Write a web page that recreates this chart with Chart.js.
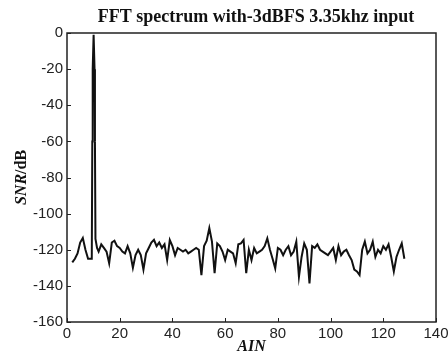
<!DOCTYPE html>
<html>
<head>
<meta charset="utf-8">
<script src="https://cdn.jsdelivr.net/npm/chart.js@4/dist/chart.umd.min.js"></script>
<style>
html,body{margin:0;padding:0;background:#fff;}
#wrap{width:448px;height:357px;position:relative;}
</style>
</head>
<body>
<div id="wrap"><canvas id="c" width="448" height="357"></canvas></div>
<script>
const chartTitle = 'FFT spectrum with-3dBFS 3.35khz input';
const xTitle = 'AIN';
const yTitleItalic = 'SNR';
const yTitleRest = '/dB';
const xTicks = [0, 20, 40, 60, 80, 100, 120, 140];
const yTicks = [0, -20, -40, -60, -80, -100, -120, -140, -160];

const freqX = [2,3,4,5,6,7,8,9,9.4,9.6,9.75,10.1,10.45,10.6,10.8,11.4,12,13,14,15,16,17,18,19,20,21,22,23,24,25,26,27,28,29,30,31,32,33,34,35,36,37,38,39,40,41,42,43,44,45,46,47,48,49,50,51,52,53,54,55,56,57,58,59,60,61,62,63,64,65,66,67,68,69,70,71,72,73,74,75,76,77,78,79,80,81,82,83,84,85,86,87,88,89,90,91,92,93,94,95,96,97,98,99,100,101,102,103,104,105,106,107,108,109,110,111,112,113,114,115,116,117,118,119,120,121,122,123,124,125,126,127,128];
const snrY = [-127,-125,-122,-116,-113.5,-120,-125,-125,-125,-60,-20,-1,-20,-60,-114,-119,-121,-117,-119,-121,-127.5,-116,-115,-118,-119,-121,-122,-118,-122,-130,-123,-120,-123,-131,-122,-119,-116,-114.5,-118,-116,-119,-117,-125.7,-114.6,-118,-123,-119,-120,-121,-120,-122,-121,-120,-119,-120,-134,-118,-115,-108,-115.5,-133,-116.5,-118,-121,-125.7,-120,-121,-122,-127.5,-117,-116.5,-114.6,-133,-120,-125.7,-119,-122,-121,-120,-118,-113.7,-120,-125,-130.3,-119,-120,-123,-120,-118,-123,-121,-115.5,-135,-124,-116.5,-120,-138.6,-118,-119,-117,-120,-121,-122,-123,-121,-119,-125.7,-118,-123,-121,-120,-123,-125.7,-131,-132,-134,-120,-115.5,-122,-120,-115.5,-124,-120,-122,-118,-120,-117,-124,-132,-124,-120,-116.5,-125];

const points = freqX.map((x, i) => ({x: x, y: snrY[i]}));

const decor = {
  id: 'decor',
  afterDraw(chart) {
    const ctx = chart.ctx;
    const a = chart.chartArea;
    const xs = chart.scales.x, ys = chart.scales.y;
    ctx.save();
    ctx.strokeStyle = '#222';
    ctx.lineWidth = 1.5;
    ctx.strokeRect(a.left, a.top, a.right - a.left, a.bottom - a.top);
    ctx.lineWidth = 1;
    ctx.beginPath();
    yTicks.forEach(v => {
      const p = Math.round(ys.getPixelForValue(v)) + 0.5;
      ctx.moveTo(a.left, p); ctx.lineTo(a.left + 4, p);
    });
    xTicks.forEach(v => {
      const p = Math.round(xs.getPixelForValue(v)) + 0.5;
      ctx.moveTo(p, a.bottom); ctx.lineTo(p, a.bottom - 4);
    });
    ctx.stroke();
    ctx.fillStyle = '#111';
    ctx.font = 'bold 18px "Liberation Serif"';
    ctx.textAlign = 'center';
    ctx.textBaseline = 'middle';
    ctx.fillText(chartTitle, 256, 17);
    ctx.font = 'italic bold 16px "Liberation Serif"';
    ctx.fillText(xTitle, (a.left + a.right) / 2, 347);
    ctx.translate(22, (a.top + a.bottom) / 2);
    ctx.rotate(-Math.PI / 2);
    ctx.font = 'italic bold 16px "Liberation Serif"';
    const w1 = ctx.measureText(yTitleItalic).width;
    ctx.font = 'bold 16px "Liberation Serif"';
    const w2 = ctx.measureText(yTitleRest).width;
    const start = -(w1 + w2) / 2;
    ctx.textAlign = 'left';
    ctx.font = 'italic bold 16px "Liberation Serif"';
    ctx.fillText(yTitleItalic, start, 0);
    ctx.font = 'bold 16px "Liberation Serif"';
    ctx.fillText(yTitleRest, start + w1, 0);
    ctx.restore();
  }
};

new Chart(document.getElementById('c'), {
  type: 'line',
  data: {
    datasets: [{
      data: points,
      borderColor: '#111',
      borderWidth: 2,
      pointRadius: 0,
      tension: 0,
      fill: false
    }]
  },
  options: {
    responsive: false,
    animation: false,
    events: [],
    layout: {padding: {top: 33, right: 12, left: 0, bottom: 0}},
    plugins: {
      legend: {display: false},
      tooltip: {enabled: false},
      title: {display: false}
    },
    scales: {
      x: {
        type: 'linear',
        min: 0, max: 140,
        afterBuildTicks: s => { s.ticks = xTicks.map(v => ({value: v})); },
        afterFit: s => { s.height = 35; s.paddingRight = 0; s.paddingLeft = 0; },
        grid: {display: false, drawTicks: false},
        border: {display: false},
        ticks: {
          color: '#222',
          font: {family: '"Liberation Sans"', size: 15},
          padding: 3,
          maxRotation: 0
        }
      },
      y: {
        type: 'linear',
        min: -160, max: 0,
        afterBuildTicks: s => { s.ticks = yTicks.map(v => ({value: v})); },
        afterFit: s => { s.width = 67; s.paddingTop = 0; s.paddingBottom = 0; },
        grid: {display: false, drawTicks: false},
        border: {display: false},
        ticks: {
          color: '#222',
          font: {family: '"Liberation Sans"', size: 15},
          padding: 4
        }
      }
    }
  },
  plugins: [decor]
});
</script>
</body>
</html>
